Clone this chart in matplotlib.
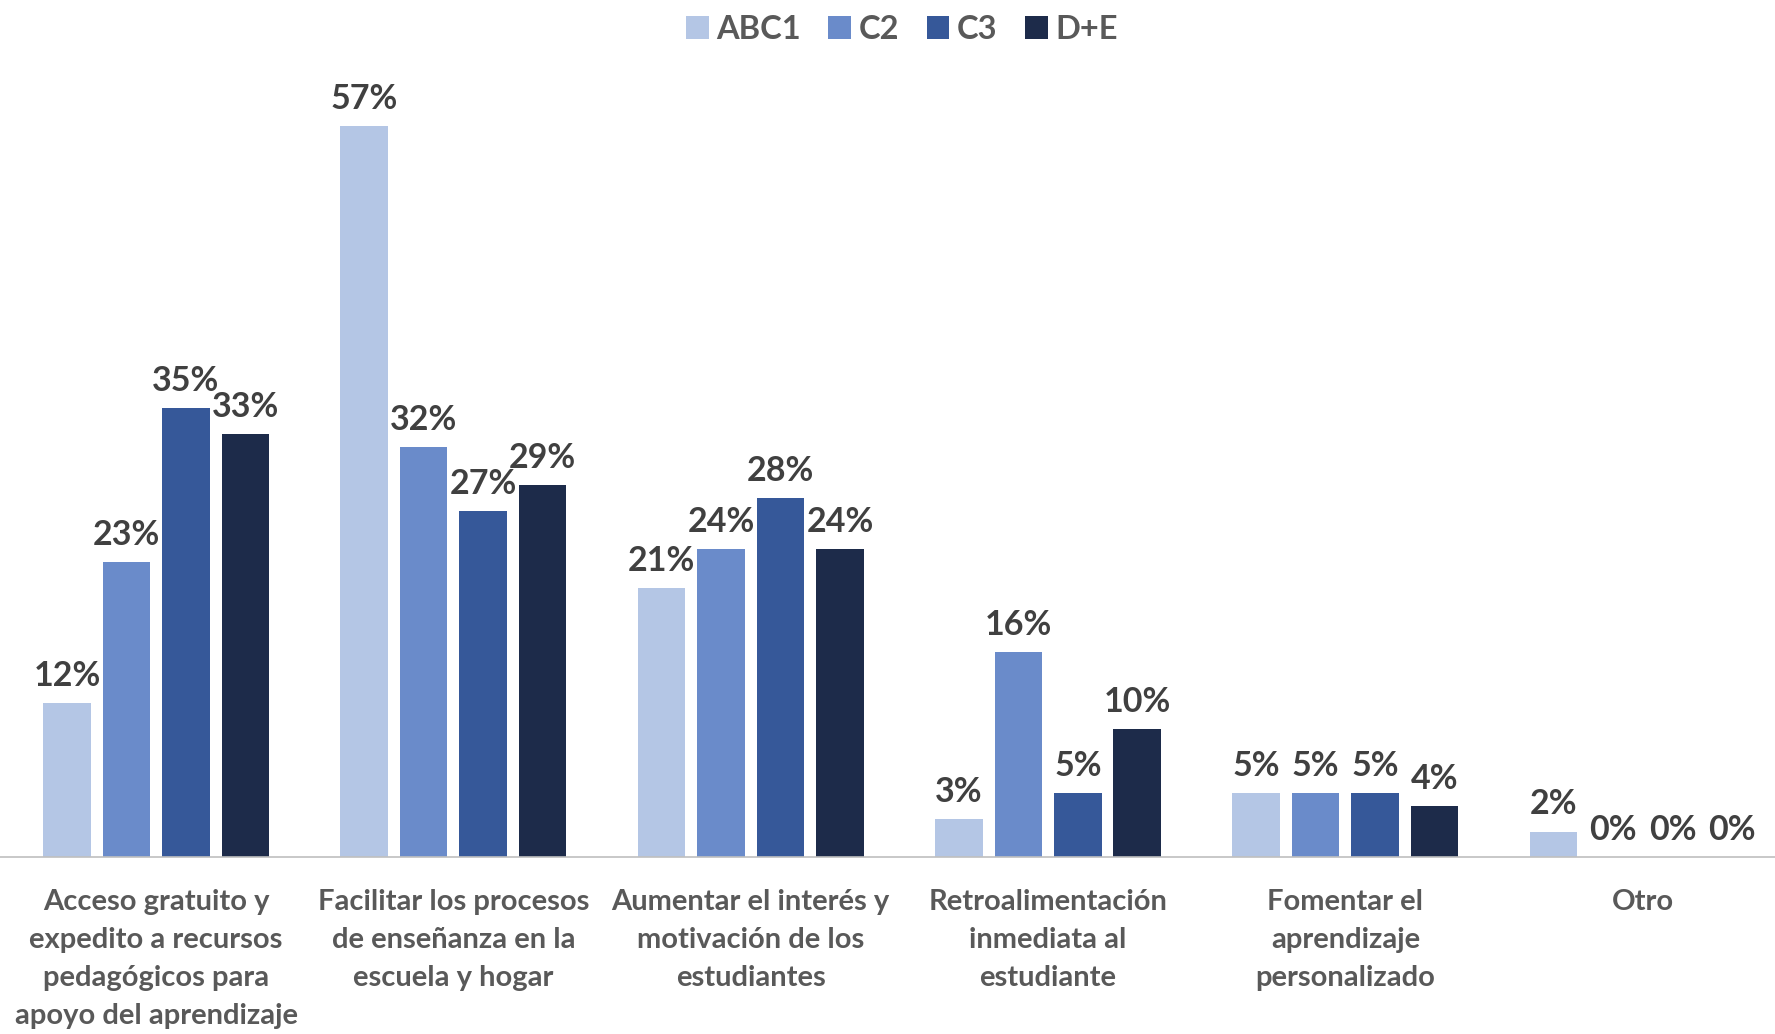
import numpy as np
import matplotlib.pyplot as plt

categories = [
    "Acceso gratuito y\nexpedito a recursos\npedagógicos para\napoyo del aprendizaje",
    "Facilitar los procesos\nde enseñanza en la\nescuela y hogar",
    "Aumentar el interés y\nmotivación de los\nestudiantes",
    "Retroalimentación\ninmediata al\nestudiante",
    "Fomentar el\naprendizaje\npersonalizado",
    "Otro",
]
series_names = ["ABC1", "C2", "C3", "D+E"]
abc1 = [12, 57, 21, 3, 5, 2]
c2 = [23, 32, 24, 16, 5, 0]
c3 = [35, 27, 28, 5, 5, 0]
de = [33, 29, 24, 10, 4, 0]

colors = ["#B4C6E5", "#6A8BCA", "#365899", "#1D2B4A"]

plt.rcParams['font.family'] = ['Lato', 'DejaVu Sans']
plt.rcParams['font.weight'] = 'bold'

fig = plt.figure(figsize=(17.75, 10.34), dpi=100)
ax = fig.add_axes([0.0, 0.171, 1.0, 0.744])

x = np.arange(len(categories))
slot = 0.2
width = 0.16
for i, (name, vals) in enumerate(zip(series_names, [abc1, c2, c3, de])):
    pos = x + (i - 1.5) * slot
    ax.bar(pos, vals, width, color=colors[i], label=name)
    for px, v in zip(pos, vals):
        ax.annotate(f"{v}%", (px, v), xytext=(0, 8), textcoords="offset points",
                    ha="center", va="bottom", fontsize=24.5, fontweight="bold",
                    color="#404040")

ax.set_xlim(-0.525, 5.445)
ax.set_ylim(0, 60)
ax.set_yticks([])
for s in ["top", "right", "left"]:
    ax.spines[s].set_visible(False)
ax.spines["bottom"].set_color("#BFBFBF")
ax.spines["bottom"].set_linewidth(1.2)
ax.set_xticks(x)
ax.set_xticklabels(categories, fontsize=21, fontweight="bold", color="#595959",
                   linespacing=1.57, va="top")
ax.tick_params(axis="x", length=0, pad=23)

fig.legend(loc="upper center", bbox_to_anchor=(0.508, 1.014), ncol=4, frameon=False,
           fontsize=23.5, handlelength=0.7, handleheight=0.7, handletextpad=0.22,
           columnspacing=0.85, labelcolor="#595959")

fig.savefig("out.png", dpi=100)
